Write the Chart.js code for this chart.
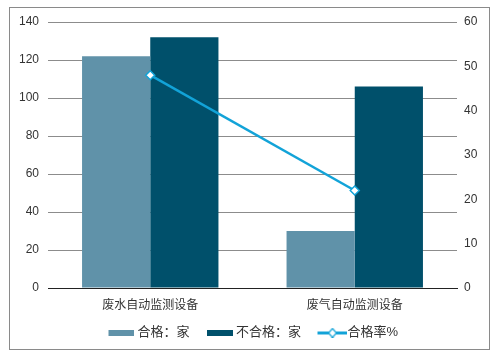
<!DOCTYPE html>
<html>
<head>
<meta charset="utf-8">
<script src="https://cdn.jsdelivr.net/npm/chart.js@4/dist/chart.umd.min.js"></script>
<style>
html,body{margin:0;padding:0;background:#fff;}
canvas{display:block;}
</style>
</head>
<body>
<canvas id="c" width="497" height="357"></canvas>
<script>
const categories = ['废水自动监测设备', '废气自动监测设备'];
const qualified = [122, 30];
const unqualified = [132, 106];
const passRate = [48, 22];
const leftTicks = [0, 20, 40, 60, 80, 100, 120, 140];
const rightTicks = [0, 10, 20, 30, 40, 50, 60];
const seriesNames = ['合格：家', '不合格：家', '合格率%'];

const C_LIGHT = '#6092A9';
const C_DARK = '#00506B';
const C_LINE = '#12A3D8';
const FONT = '"Liberation Sans", Arial, "Noto Sans CJK SC", sans-serif';

// legend icons: drawn in the right part of a wider transparent canvas
function rectIcon(color) {
  const c = document.createElement('canvas');
  c.width = 39; c.height = 6;
  const g = c.getContext('2d');
  g.fillStyle = color; g.fillRect(13, 0, 26, 6);
  return c;
}
function lineIcon(color) {
  const c = document.createElement('canvas');
  c.width = 45; c.height = 10;
  const g = c.getContext('2d');
  g.fillStyle = color; g.fillRect(15, 4, 30, 3);
  g.beginPath();
  g.moveTo(30, 1); g.lineTo(34, 5.5); g.lineTo(30, 10); g.lineTo(26, 5.5); g.closePath();
  g.fillStyle = '#fff'; g.fill();
  g.lineWidth = 1.2; g.strokeStyle = color; g.stroke();
  return c;
}
const icons = [rectIcon(C_LIGHT), rectIcon(C_DARK), lineIcon(C_LINE)];

const borderPlugin = {
  id: 'frame',
  beforeDraw(chart) {
    const ctx = chart.ctx;
    ctx.save();
    ctx.fillStyle = '#fff';
    ctx.fillRect(0, 0, chart.width, chart.height);
    ctx.strokeStyle = '#8a8a8a';
    ctx.lineWidth = 1;
    ctx.strokeRect(9.5, 7.5, 480, 342);
    ctx.restore();
  }
};

new Chart(document.getElementById('c'), {
  data: {
    labels: categories,
    datasets: [
      { type: 'bar', label: seriesNames[0], data: qualified, backgroundColor: C_LIGHT, yAxisID: 'y', order: 1,
        barPercentage: 1, categoryPercentage: 0.667 },
      { type: 'bar', label: seriesNames[1], data: unqualified, backgroundColor: C_DARK, yAxisID: 'y', order: 1,
        barPercentage: 1, categoryPercentage: 0.667 },
      { type: 'line', label: seriesNames[2], data: passRate, yAxisID: 'y1', order: 0,
        borderColor: C_LINE, borderWidth: 2.5, pointStyle: 'rectRot', pointRadius: 4.5,
        pointBackgroundColor: '#fff', pointBorderColor: C_LINE, pointBorderWidth: 1.5, tension: 0 }
    ]
  },
  options: {
    responsive: false,
    animation: false,
    layout: { padding: { top: 22, left: 0, right: 0, bottom: 8 } },
    plugins: {
      tooltip: { enabled: false },
      legend: {
        position: 'bottom',
        labels: {
          usePointStyle: true,
          pointStyleWidth: 32,
          boxHeight: 10,
          padding: 8,
          color: '#333',
          font: { family: FONT, size: 13 },
          generateLabels(chart) {
            return chart.data.datasets.map((d, i) => ({
              text: d.label, pointStyle: icons[i], datasetIndex: i,
              fillStyle: 'transparent', strokeStyle: 'transparent', lineWidth: 0, fontColor: '#333'
            }));
          }
        }
      }
    },
    scales: {
      x: {
        grid: { display: false, drawTicks: false },
        border: { display: true, color: '#222', width: 1 },
        ticks: { color: '#333', padding: 10, font: { family: FONT, size: 12 } },
        afterFit(s) { s.height = 30; }
      },
      y: {
        position: 'left', min: 0, max: 140,
        afterBuildTicks(s) { s.ticks = leftTicks.map(v => ({ value: v })); },
        grid: { color: '#8c8c8c', drawTicks: false, lineWidth: 1 },
        border: { display: false },
        ticks: { color: '#333', padding: 9, font: { family: FONT, size: 12 } },
        afterFit(s) { s.width = 48; }
      },
      y1: {
        position: 'right', min: 0, max: 60,
        afterBuildTicks(s) { s.ticks = rightTicks.map(v => ({ value: v })); },
        grid: { display: false, drawTicks: false },
        border: { display: false },
        ticks: { color: '#333', padding: 7, font: { family: FONT, size: 12 } },
        afterFit(s) { s.width = 40; }
      }
    }
  },
  plugins: [borderPlugin]
});
</script>
</body>
</html>
